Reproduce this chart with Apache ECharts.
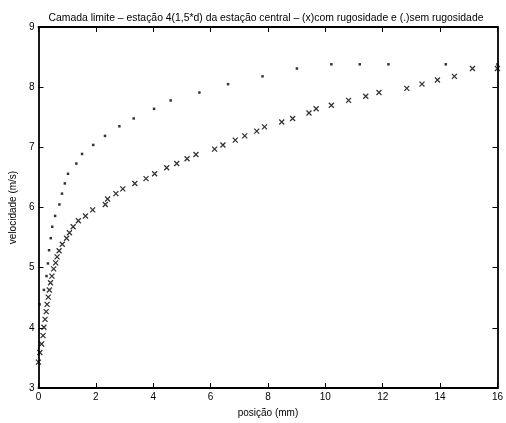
<!DOCTYPE html>
<html>
<head>
<meta charset="utf-8">
<script src="https://cdn.jsdelivr.net/npm/echarts@6/dist/echarts.min.js"></script>
<style>
  html, body { margin: 0; padding: 0; background: #fff; }
  #chart { width: 506px; height: 423px; }
</style>
</head>
<body>
<div id="chart"></div>
<script>
// Perfil da camada limite: posição (mm) e velocidade (m/s)
const semRugPos = [0.04, 0.19, 0.28, 0.33, 0.37, 0.43, 0.48, 0.58, 0.73, 0.82, 0.92, 1.03, 1.32, 1.52, 1.91, 2.32, 2.82, 3.32, 4.03, 4.61, 5.61, 6.61, 7.81, 9.01, 10.21, 11.2, 12.2, 14.2, 16.0];
const semRugVel = [4.39, 4.63, 4.86, 5.07, 5.29, 5.49, 5.68, 5.86, 6.05, 6.23, 6.40, 6.56, 6.73, 6.89, 7.04, 7.19, 7.35, 7.48, 7.64, 7.78, 7.91, 8.05, 8.18, 8.31, 8.38, 8.38, 8.38, 8.38, 8.38];

const comRugPos = [0.0, 0.05, 0.11, 0.16, 0.19, 0.23, 0.27, 0.30, 0.34, 0.38, 0.42, 0.47, 0.53, 0.60, 0.65, 0.72, 0.83, 0.98, 1.08, 1.21, 1.39, 1.64, 1.89, 2.33, 2.41, 2.70, 2.94, 3.36, 3.75, 4.05, 4.47, 4.82, 5.18, 5.49, 6.14, 6.43, 6.86, 7.19, 7.61, 7.88, 8.48, 8.86, 9.43, 9.68, 10.21, 10.81, 11.41, 11.87, 12.84, 13.37, 13.91, 14.5, 15.13, 16.0];
const comRugVel = [3.43, 3.59, 3.73, 3.87, 4.01, 4.14, 4.27, 4.39, 4.51, 4.63, 4.75, 4.86, 4.98, 5.08, 5.18, 5.28, 5.39, 5.49, 5.58, 5.68, 5.78, 5.86, 5.96, 6.05, 6.14, 6.23, 6.31, 6.40, 6.48, 6.56, 6.66, 6.73, 6.81, 6.88, 6.97, 7.04, 7.12, 7.19, 7.27, 7.34, 7.42, 7.48, 7.57, 7.64, 7.70, 7.78, 7.85, 7.91, 7.98, 8.05, 8.12, 8.18, 8.31, 8.31];

const xTicks = [0, 2, 4, 6, 8, 10, 12, 14, 16];
const yTicks = [3, 4, 5, 6, 7, 8, 9];

const FONT = 'Liberation Sans, Arial, Helvetica, sans-serif';
const pairs = (xs, ys) => xs.map((x, i) => [x, ys[i]]);

const baseAxis = {
  axisLine: { show: true, onZero: false, lineStyle: { color: '#000', width: 1.8 } },
  axisTick: { show: true, inside: true, length: 5, lineStyle: { color: '#000', width: 1 } },
  splitLine: { show: false }
};

const chart = echarts.init(document.getElementById('chart'), null, { renderer: 'canvas' });
chart.setOption({
  animation: false,
  backgroundColor: '#fff',
  title: {
    text: 'Camada limite – estação 4(1,5*d) da estação central – (x)com rugosidade e (.)sem rugosidade',
    left: 261, top: 8, textAlign: 'center',
    textStyle: { fontFamily: FONT, fontSize: 10.4, fontWeight: 'normal', color: '#000' }
  },
  grid: { left: 33.5, right: 8.5, top: 27, bottom: 31.5, containLabel: false },
  xAxis: [
    Object.assign({}, baseAxis, {
      type: 'value', position: 'bottom', min: xTicks[0], max: xTicks[xTicks.length - 1], interval: 2,
      name: 'posição (mm)', nameLocation: 'middle', nameGap: 20,
      nameTextStyle: { fontFamily: FONT, fontSize: 10, color: '#000' },
      axisLabel: { fontFamily: FONT, fontSize: 10, color: '#000', margin: 4 }
    }),
    Object.assign({}, baseAxis, {
      type: 'value', position: 'top', min: xTicks[0], max: xTicks[xTicks.length - 1], interval: 2,
      axisLabel: { show: false }
    })
  ],
  yAxis: [
    Object.assign({}, baseAxis, {
      type: 'value', position: 'left', min: yTicks[0], max: yTicks[yTicks.length - 1], interval: 1,
      name: 'velocidade (m/s)', nameLocation: 'middle', nameGap: 19, nameRotate: 90,
      nameTextStyle: { fontFamily: FONT, fontSize: 10, color: '#000' },
      axisLabel: { fontFamily: FONT, fontSize: 10, color: '#000', margin: 4 }
    }),
    Object.assign({}, baseAxis, {
      type: 'value', position: 'right', min: yTicks[0], max: yTicks[yTicks.length - 1], interval: 1,
      axisLabel: { show: false }
    })
  ],
  series: [
    {
      name: 'com rugosidade', type: 'scatter',
      xAxisIndex: 0, yAxisIndex: 0,
      data: pairs(comRugPos, comRugVel),
      symbol: 'path://M0,0L10,10M10,0L0,10',
      symbolSize: 5,
      itemStyle: { color: 'rgba(0,0,0,0)', borderColor: '#000', borderWidth: 1.3 },
      emphasis: { disabled: true }
    },
    {
      name: 'sem rugosidade', type: 'scatter',
      xAxisIndex: 0, yAxisIndex: 0,
      data: pairs(semRugPos, semRugVel),
      symbol: 'rect',
      symbolSize: 2.5,
      itemStyle: { color: '#000' },
      emphasis: { disabled: true }
    }
  ]
});
</script>
</body>
</html>
